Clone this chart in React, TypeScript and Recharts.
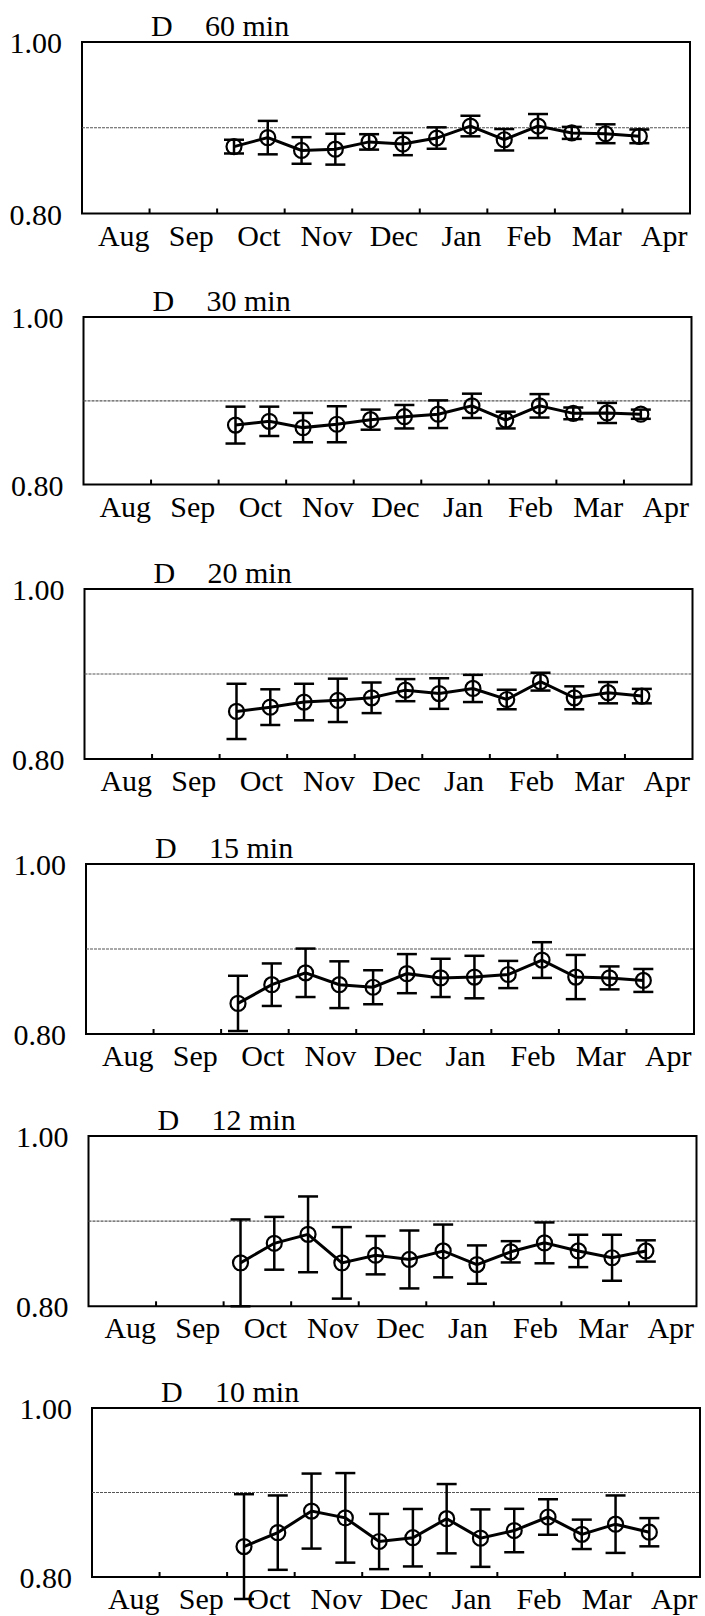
import React from "react";
import {
  ComposedChart,
  Line,
  ErrorBar,
  XAxis,
  YAxis,
  ReferenceLine,
  ReferenceArea,
} from "recharts";

const months = ["Aug", "Sep", "Oct", "Nov", "Dec", "Jan", "Feb", "Mar", "Apr"];
// sampling dates, in months from 1 Aug
const sampleX = [2.25, 2.75, 3.25, 3.75, 4.25, 4.75, 5.25, 5.75, 6.25, 6.75, 7.25, 7.75, 8.25];
const yTicks = [0.8, 1.0];
const refValue = 0.9;

const mean60 = [0.878, 0.8885, 0.8735, 0.875, 0.8835, 0.881, 0.888, 0.902, 0.886, 0.902, 0.894, 0.893, 0.89];
const err60 = [0.008, 0.0195, 0.0155, 0.018, 0.009, 0.013, 0.0125, 0.012, 0.0125, 0.014, 0.007, 0.011, 0.008];

const mean30 = [0.871, 0.8755, 0.868, 0.872, 0.8775, 0.881, 0.884, 0.894, 0.877, 0.894, 0.885, 0.8855, 0.884];
const err30 = [0.022, 0.0175, 0.0175, 0.0215, 0.012, 0.014, 0.0165, 0.0145, 0.01, 0.014, 0.007, 0.012, 0.0055];

const mean20 = [0.856, 0.861, 0.867, 0.869, 0.872, 0.881, 0.877, 0.883, 0.87, 0.891, 0.872, 0.878, 0.874];
const err20 = [0.0325, 0.021, 0.0215, 0.0255, 0.018, 0.013, 0.018, 0.016, 0.0115, 0.0105, 0.0135, 0.0125, 0.0085];

const mean15 = [0.836, 0.858, 0.872, 0.858, 0.855, 0.871, 0.866, 0.867, 0.87, 0.887, 0.867, 0.866, 0.863];
const err15 = [0.0325, 0.025, 0.0285, 0.0275, 0.02, 0.023, 0.0225, 0.025, 0.016, 0.021, 0.026, 0.0135, 0.0135];

const mean12 = [0.851, 0.874, 0.8845, 0.851, 0.86, 0.855, 0.865, 0.849, 0.864, 0.8745, 0.865, 0.857, 0.865];
const err12 = [0.051, 0.031, 0.0445, 0.042, 0.0225, 0.034, 0.031, 0.0225, 0.0125, 0.024, 0.019, 0.027, 0.0125];

const mean10 = [0.836, 0.8525, 0.878, 0.87, 0.842, 0.8465, 0.869, 0.846, 0.855, 0.871, 0.8505, 0.8625, 0.853];
const err10 = [0.062, 0.044, 0.0444, 0.053, 0.0327, 0.034, 0.041, 0.034, 0.0257, 0.021, 0.0174, 0.034, 0.0167];

const FONT = '"Liberation Serif", "Times New Roman", serif';
const FS = 30;
const PLOT_W = 608;
const MARGIN_TOP = 30;
const AXIS_H = 40;

const panels = [
  { label: "60 min", mean: mean60, err: err60, left: 82, top: 41.7, plotH: 171.5 },
  { label: "30 min", mean: mean30, err: err30, left: 83.5, top: 316.7, plotH: 167.6 },
  { label: "20 min", mean: mean20, err: err20, left: 84.5, top: 589.3, plotH: 170 },
  { label: "15 min", mean: mean15, err: err15, left: 86, top: 864.3, plotH: 170 },
  { label: "12 min", mean: mean12, err: err12, left: 88.5, top: 1135.7, plotH: 170.3 },
  { label: "10 min", mean: mean10, err: err10, left: 92, top: 1408.3, plotH: 169 },
];

// month labels sit mid-band, tick marks on the month boundaries
const xTicks: number[] = [];
months.forEach((_, i) => {
  xTicks.push(i + 0.5);
  if (i < months.length - 1) xTicks.push(i + 1);
});

function MonthTick(props: any) {
  const { x, y, payload } = props;
  const v = payload.value;
  if (Number.isInteger(v)) {
    return <line x1={x} x2={x} y1={y} y2={y - 5} stroke="#000" strokeWidth={2} />;
  }
  return (
    <text x={x + 8} y={y + 32} textAnchor="middle" fontSize={FS} fontFamily={FONT} fill="#000">
      {months[Math.floor(v)]}
    </text>
  );
}

function ValueTick(props: any) {
  const { x, y, payload } = props;
  return (
    <text x={x - 20} y={y + 11} textAnchor="end" fontSize={FS} fontFamily={FONT} fill="#000">
      {Number(payload.value).toFixed(2)}
    </text>
  );
}

function Panel({ p }: { p: (typeof panels)[number] }) {
  const data = sampleX.map((x, i) => ({ x, mean: p.mean[i], err: p.err[i] }));
  const height = MARGIN_TOP + p.plotH + AXIS_H;
  return (
    <>
      <svg
        width={705}
        height={50}
        style={{ position: "absolute", left: 0, top: p.top - 50 }}
      >
        <text x={p.left + 69} y={43.5} fontSize={FS} fontFamily={FONT} fill="#000">
          D
        </text>
        <text x={p.left + 123} y={43.5} fontSize={FS} fontFamily={FONT} fill="#000">
          {p.label}
        </text>
      </svg>
      <div style={{ position: "absolute", left: 0, top: p.top - MARGIN_TOP }}>
        <ComposedChart
          width={705}
          height={height}
          data={data}
          margin={{ top: MARGIN_TOP, right: 705 - p.left - PLOT_W, bottom: 0, left: 0 }}
        >
          <XAxis
            type="number"
            dataKey="x"
            domain={[0, 9]}
            ticks={xTicks}
            interval={0}
            tick={<MonthTick />}
            tickLine={false}
            tickSize={0}
            tickMargin={0}
            axisLine={false}
            height={AXIS_H}
          />
          <YAxis
            type="number"
            domain={[0.8, 1.0]}
            allowDataOverflow
            ticks={yTicks}
            interval={0}
            tick={<ValueTick />}
            tickLine={false}
            tickSize={0}
            tickMargin={0}
            axisLine={false}
            width={p.left}
          />
          <ReferenceArea
            x1={0}
            x2={9}
            y1={0.8}
            y2={1.0}
            fill="none"
            stroke="#000"
            strokeWidth={2}
          />
          <ReferenceLine y={refValue} stroke="#555" strokeWidth={1.2} strokeDasharray="3 1" />
          <Line
            type="linear"
            dataKey="mean"
            stroke="#000"
            strokeWidth={3}
            dot={{ r: 7.5, fill: "none", stroke: "#000", strokeWidth: 2.2 }}
            activeDot={false}
            isAnimationActive={false}
          >
            <ErrorBar dataKey="err" width={10} stroke="#000" strokeWidth={2.5} direction="y" />
          </Line>
        </ComposedChart>
      </div>
    </>
  );
}

export default function App() {
  return (
    <div
      style={{
        position: "absolute",
        left: 0,
        top: 0,
        width: 705,
        height: 1616,
        background: "#fff",
        overflow: "hidden",
      }}
    >
      {panels.map((p) => (
        <Panel key={p.label} p={p} />
      ))}
    </div>
  );
}
